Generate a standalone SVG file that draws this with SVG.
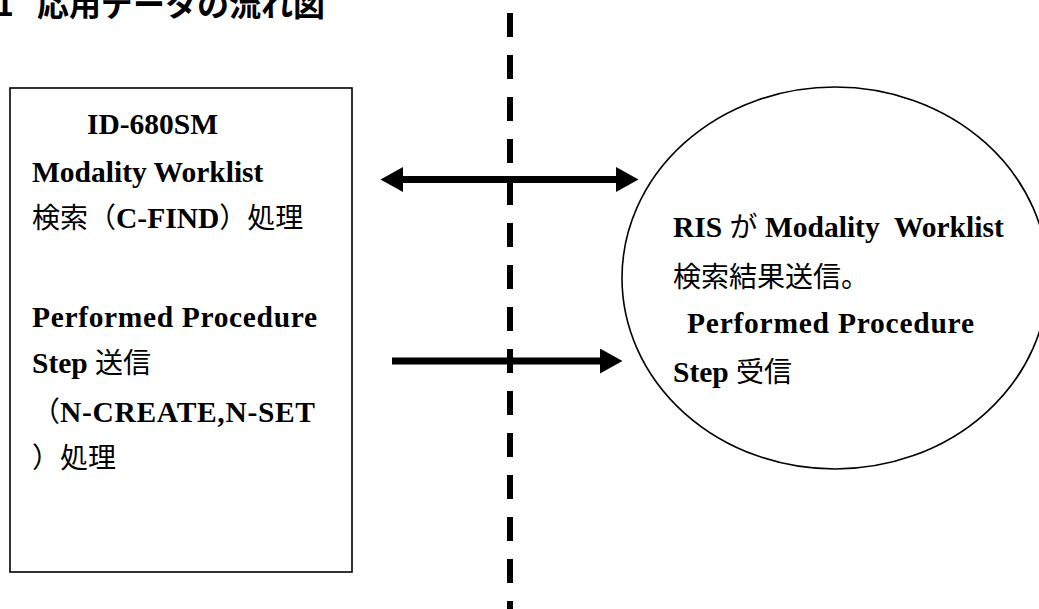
<svg xmlns="http://www.w3.org/2000/svg" width="1039" height="609" viewBox="0 0 1039 609">
<style>
  .t { font-family: "Liberation Serif", "Noto Sans CJK JP", serif; font-weight: bold; font-size: 29.5px; fill: #000; }
  .j { font-family: "Noto Sans CJK JP", sans-serif; font-weight: normal; font-size: 28px; }
  .title { font-family: "Noto Sans CJK JP", sans-serif; font-weight: bold; font-size: 32px; fill: #000; }
  .shape { fill: #fff; stroke: #000; stroke-width: 1.6; }
  .arrow { stroke: #000; stroke-width: 7; fill: none; }
  .divider { stroke: #000; stroke-width: 6; stroke-dasharray: 24 18; }
</style>
<defs>
  <marker id="head" markerUnits="userSpaceOnUse" markerWidth="24" markerHeight="26" refX="0" refY="12.5" orient="auto-start-reverse" viewBox="0 0 24 26">
    <path d="M0,0 L22.5,12.5 L0,25 Z" fill="#000"/>
  </marker>
</defs>
<rect width="1039" height="609" fill="#fff"/>

<g id="title">
  <text class="title" y="16"><tspan x="-5">1</tspan><tspan x="37">応用データの流れ図</tspan></text>
</g>

<g id="divider">
  <line class="divider" x1="510" y1="13" x2="510" y2="609"/>
</g>

<g id="node-id680sm">
  <rect class="shape" x="10" y="88" width="342" height="484"/>
  <text class="t" x="87" y="134">ID-680SM</text>
  <text class="t" x="32" y="182">Modality Worklist</text>
  <text class="t" x="32" y="228"><tspan class="j">検索（</tspan>C-FIND<tspan class="j">）処理</tspan></text>
  <text class="t" x="32" y="327" textLength="285" lengthAdjust="spacing">Performed Procedure</text>
  <text class="t" x="32" y="373">Step <tspan class="j">送信</tspan></text>
  <text class="t" x="32" y="422"><tspan class="j">（</tspan><tspan textLength="255" lengthAdjust="spacing">N-CREATE,N-SET</tspan></text>
  <text class="t" x="32" y="468"><tspan class="j">）処理</tspan></text>
</g>

<g id="node-ris">
  <ellipse class="shape" cx="835" cy="278" rx="213" ry="191"/>
  <text class="t" x="673" y="237" xml:space="preserve">RIS <tspan class="j">が</tspan> Modality  Worklist</text>
  <text class="t" x="673" y="287"><tspan class="j">検索結果送信。</tspan></text>
  <text class="t" x="687" y="333" textLength="287" lengthAdjust="spacing">Performed Procedure</text>
  <text class="t" x="673" y="382">Step <tspan class="j">受信</tspan></text>
</g>

<g id="connectors">
  <line class="arrow" x1="403" y1="179.5" x2="616" y2="179.5" marker-start="url(#head)" marker-end="url(#head)"/>
  <line class="arrow" x1="392" y1="361" x2="600" y2="361" marker-end="url(#head)"/>
</g>
</svg>
